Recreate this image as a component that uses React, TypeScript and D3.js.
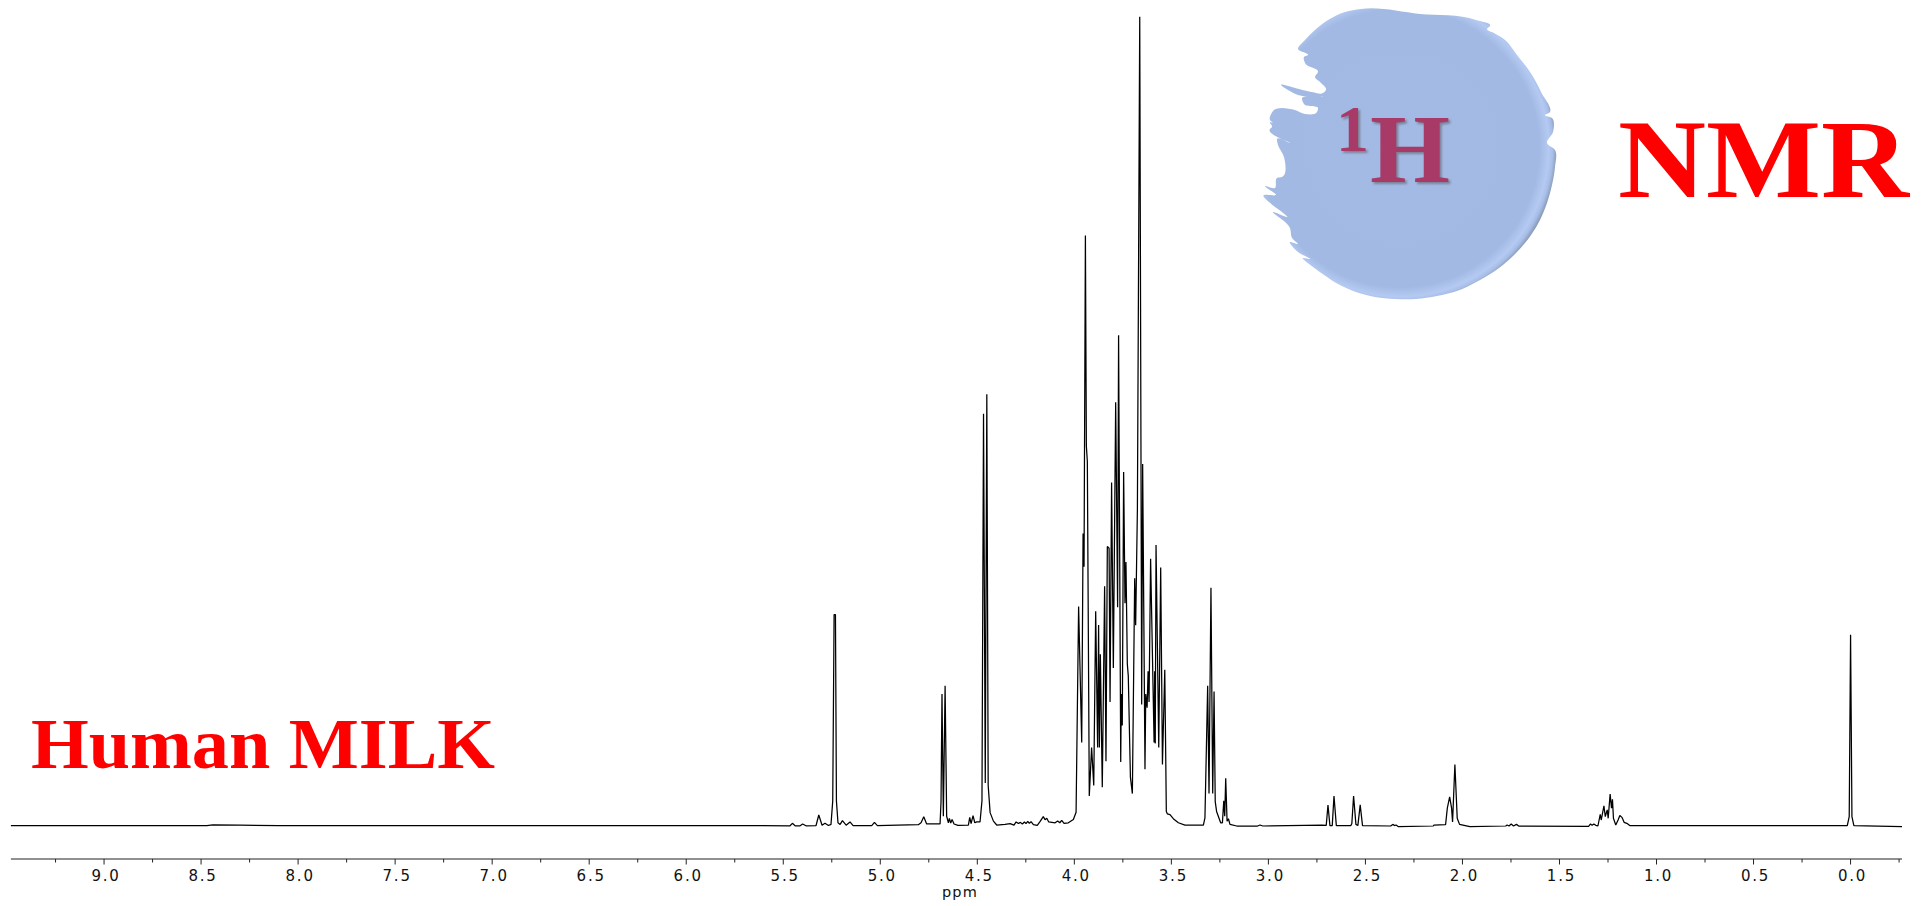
import React from "react";
import * as d3 from "d3";

// [ppm, relative intensity (%)], high field to the right
const downfieldRegion: [number, number][] = [
  [9.48, 0.05], [8.47, 0.05], [8.44, 0.14], [8.3, 0.1], [8.1, 0.05], [5.465, 0.03], [5.453, 0.33], [5.439, 0.03],
  [5.413, 0.03], [5.4, 0.25], [5.383, 0.03], [5.331, 0.06], [5.317, 1.36], [5.3, 0.1], [5.285, 0.33], [5.267, 0.06],
  [5.254, 0.2], [5.245, 3.1], [5.238, 26.1], [5.231, 26.1], [5.226, 3.1], [5.218, 0.4], [5.207, 0.2], [5.195, 0.66],
  [5.176, 0.1], [5.156, 0.5], [5.14, 0.05], [5.044, 0.05], [5.03, 0.45], [5.015, 0.05], [4.804, 0.16], [4.79, 0.4],
  [4.776, 1.15], [4.761, 0.25], [4.692, 0.25], [4.687, 3], [4.682, 16.3], [4.675, 1.2], [4.666, 17.3], [4.658, 1.2],
  [4.649, 0.4], [4.644, 0.95], [4.637, 0.37], [4.63, 0.8], [4.62, 0.25], [4.6, 0.08], [4.546, 0.12], [4.539, 1.07],
  [4.532, 0.3], [4.522, 1.28], [4.513, 0.4], [4.503, 0.5], [4.486, 0.5],
];

const lactoseDoublet: [number, number][] = [
  [4.476, 3.1], [4.468, 50.9], [4.459, 5.3], [4.451, 53.3], [4.444, 5], [4.434, 1.65], [4.417, 0.6], [4.4, 0.12],
  [4.357, 0.2], [4.331, 0.3], [4.311, 0.1], [4.3, 0.5], [4.288, 0.3], [4.278, 0.45], [4.268, 0.25], [4.257, 0.5],
  [4.249, 0.3], [4.24, 0.58], [4.232, 0.33], [4.223, 0.53], [4.211, 0.16], [4.191, 0.08], [4.177, 0.53], [4.16, 1.15],
  [4.151, 0.78], [4.142, 0.95], [4.132, 0.5], [4.099, 0.4], [4.086, 0.62], [4.075, 0.4], [4.065, 0.7], [4.053, 0.33],
  [4.031, 0.4], [4.005, 0.8], [3.991, 1.7],
];

const sugarRegion: [number, number][] = [
  [3.978, 27.1], [3.962, 10.3], [3.955, 36.1], [3.95, 32], [3.943, 72.9], [3.938, 46.9], [3.933, 45], [3.923, 3.7],
  [3.911, 9.7], [3.9, 5], [3.89, 26.5], [3.88, 9.7], [3.875, 24.8], [3.871, 9.7], [3.866, 21.2], [3.856, 4.8],
  [3.844, 29.6], [3.837, 8], [3.83, 34.5], [3.821, 34.3], [3.816, 15.3], [3.808, 42.4], [3.799, 19.5], [3.787, 52.3],
  [3.777, 27], [3.772, 60.6], [3.761, 7.9], [3.758, 16.3], [3.753, 12.4], [3.746, 43.7], [3.739, 27.5], [3.734, 32.6],
  [3.727, 20], [3.722, 18.5], [3.711, 6], [3.701, 4], [3.689, 30.6], [3.684, 24.8], [3.675, 39.2], [3.663, 99.9],
  [3.653, 15], [3.648, 44.7], [3.636, 7], [3.632, 16.3], [3.625, 14.6], [3.62, 19.1], [3.615, 15.3], [3.607, 33],
  [3.589, 10.3], [3.586, 19.1], [3.583, 10.2], [3.579, 34.7], [3.565, 9.7], [3.555, 31.9], [3.546, 7.6], [3.534, 19.3],
  [3.526, 1.8], [3.521, 1.5], [3.507, 1.4], [3.49, 0.9], [3.464, 0.4], [3.43, 0.1], [3.404, 0.1], [3.335, 0.1],
  [3.327, 1], [3.313, 17.3], [3.306, 4], [3.296, 29.4], [3.287, 4], [3.28, 16.6], [3.274, 3], [3.267, 1.8],
  [3.246, 0.4], [3.237, 0.4], [3.23, 3.1], [3.225, 1.2], [3.22, 5.9], [3.213, 0.6], [3.206, 0.9], [3.198, 0.2], [3.163, 0],
];

const upfieldRegion: [number, number][] = [
  [3.056, 0], [3.043, 0.12], [3.029, 0], [2.724, 0.1], [2.702, 0.08], [2.693, 2.6], [2.683, 0.05], [2.671, 0.05],
  [2.662, 3.7], [2.65, 0.05], [2.575, 0.05], [2.57, 0.3], [2.561, 3.7], [2.549, 0.2], [2.539, 0.05], [2.527, 2.6],
  [2.515, 0.05], [2.37, 0], [2.359, 0.2], [2.35, 0.05], [2.342, 0.12], [2.33, -0.08], [2.15, 0], [2.147, 0.12],
  [2.087, 0.16], [2.078, 2.2], [2.066, 3.6], [2.056, 2.2], [2.051, 0.5], [2.039, 7.6], [2.027, 0.95], [2.015, 0.2],
  [1.962, -0.08], [1.777, 0], [1.77, 0.12], [1.76, 0], [1.749, 0.25], [1.737, 0], [1.722, 0.2], [1.71, 0],
  [1.35, -0.05], [1.34, 0.25], [1.332, 0.08], [1.323, 0.25], [1.313, 0.08], [1.302, 0], [1.29, 1.44], [1.285, 0.74],
  [1.28, 1.35], [1.271, 2.5], [1.264, 1.15], [1.254, 2], [1.249, 0.95], [1.239, 3.95], [1.232, 2.2], [1.227, 3.3],
  [1.222, 0.95], [1.21, 0.12], [1.198, 0.74], [1.189, 1.3], [1.177, 1.03], [1.167, 0.45], [1.153, 0.33], [1.138, 0.05],
];

const referencePeak: [number, number][] = [
  [0.017, 0.05], [0.007, 1.15], [0, 23.6], [-0.007, 1.15], [-0.017, 0.05], [-0.265, -0.08],
];

const majorTicks = [9, 8.5, 8, 7.5, 7, 6.5, 6, 5.5, 5, 4.5, 4, 3.5, 3, 2.5, 2, 1.5, 1, 0.5, 0];
const minorTicks = [9.25, 8.75, 8.25, 7.75, 7.25, 6.75, 6.25, 5.75, 5.25, 4.75, 4.25, 3.75, 3.25, 2.75, 2.25, 1.75, 1.25, 0.75, 0.25, -0.25];
const xLabel = "ppm";

// Torn-edge outline of the logo disc, in page pixels (decoration, not data)
const discOutline: [number, number][] = [
  [1361, 9], [1420, 14], [1476, 20], [1490, 26], [1487, 29], [1494, 33], [1505, 40], [1517, 55], [1530, 72], [1541, 92], [1549, 113],
  [1545, 115], [1552, 118], [1553, 132], [1547, 143], [1555, 150], [1555, 167], [1552, 185], [1547, 203], [1540, 220],
  [1531, 235], [1516, 253], [1499, 268], [1480, 280], [1457, 291], [1437, 296], [1416, 299], [1395, 299], [1375, 297],
  [1356, 292], [1338, 284], [1324, 275], [1313, 267], [1303, 258], [1310, 259], [1298, 252], [1290, 242], [1298, 244],
  [1292, 238], [1290, 228], [1273, 212], [1287, 217], [1264, 195], [1276, 195], [1265, 186], [1275, 188], [1277, 178],
  [1282, 177], [1284, 157], [1278, 145], [1277, 139], [1290, 143], [1270, 129], [1272, 127], [1270, 122], [1273, 123],
  [1270, 120], [1273, 111], [1295, 110], [1305, 114], [1317, 112], [1318, 108], [1310, 106], [1305, 105], [1302, 99],
  [1323, 97], [1298, 95], [1281, 85], [1312, 92], [1323, 93], [1326, 90], [1320, 82], [1315, 77], [1318, 72], [1305, 63],
  [1304, 57], [1308, 55], [1298, 49], [1305, 40], [1315, 30], [1328, 20], [1345, 12],
];

const spectrum = [...downfieldRegion, ...lactoseDoublet, ...sugarRegion, ...upfieldRegion, ...referencePeak];

const x = d3.scaleLinear().domain([9.48, -0.265]).range([10.9, 1902]);
const y = d3.scaleLinear().domain([0, 100]).range([826, 16]);
const line = d3.line<[number, number]>().x((d) => x(d[0])).y((d) => y(d[1]));
const discPath = d3.line().curve(d3.curveCatmullRomClosed.alpha(1))(discOutline) as string;

const AXIS_Y = 859;
const SERIF = "'Liberation Serif', serif";
const glyphShadow = "drop-shadow(2px 2px 1px rgba(110,110,125,0.75))";

export default function App() {
  return (
    <svg
      width={1921}
      height={906}
      viewBox="0 0 1921 906"
      style={{ position: "absolute", left: 0, top: 0, display: "block", background: "#fff" }}
    >
      <defs>
        <radialGradient id="discFill" gradientUnits="userSpaceOnUse" cx={1400} cy={148} r={160}>
          <stop offset="0" stopColor="#a3bae5" />
          <stop offset="0.87" stopColor="#a2b9e3" />
          <stop offset="0.93" stopColor="#b4caf2" />
          <stop offset="0.955" stopColor="#a8bee6" />
          <stop offset="0.985" stopColor="#8495b3" />
          <stop offset="1" stopColor="#b9c0cd" />
        </radialGradient>
      </defs>

      <path d={line(spectrum) as string} fill="none" stroke="#000" strokeWidth={1.25} strokeLinejoin="bevel" />

      <g>
        <line x1={x.range()[0]} x2={x.range()[1]} y1={AXIS_Y} y2={AXIS_Y} stroke="#222" strokeWidth={1.2} />
        {minorTicks.map((t) => (
          <line key={t} x1={x(t)} x2={x(t)} y1={AXIS_Y} y2={AXIS_Y + 3.5} stroke="#222" strokeWidth={1} />
        ))}
        {majorTicks.map((t) => (
          <g key={t}>
            <line x1={x(t)} x2={x(t)} y1={AXIS_Y} y2={AXIS_Y + 5.5} stroke="#222" strokeWidth={1} />
            <text
              x={x(t) + 2}
              y={881}
              textAnchor="middle"
              fontFamily="'DejaVu Sans', sans-serif"
              fontSize={15}
              letterSpacing={1.8}
              fill="#111"
            >
              {t.toFixed(1)}
            </text>
          </g>
        ))}
        <text x={960} y={897} textAnchor="middle" fontFamily="'DejaVu Sans', sans-serif" fontSize={14.5} letterSpacing={1.2} fill="#111">
          {xLabel}
        </text>
      </g>

      <text x={31} y={768} fontFamily={SERIF} fontWeight={700} fontSize={72} fill="#ff0000" textLength={464} lengthAdjust="spacingAndGlyphs">
        Human MILK
      </text>

      <path d={discPath} fill="url(#discFill)" />
      <g fill="#a83a68" fontFamily={SERIF} fontWeight={700} style={{ filter: glyphShadow }}>
        <text x={1336} y={151} fontSize={66}>1</text>
        <text x={1370} y={182} fontSize={98} textLength={80} lengthAdjust="spacingAndGlyphs">H</text>
      </g>

      <text x={1618} y={197} fontFamily={SERIF} fontWeight={700} fontSize={113} fill="#ff0000" textLength={291} lengthAdjust="spacingAndGlyphs">
        NMR
      </text>
    </svg>
  );
}
